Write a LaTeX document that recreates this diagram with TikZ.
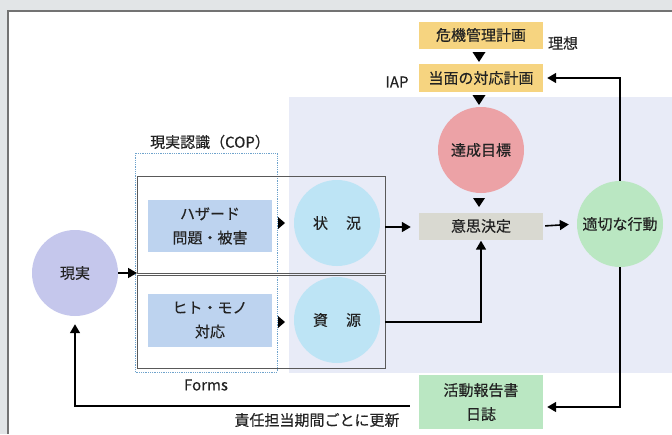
\documentclass[tikz,border=0pt]{standalone}
\usepackage{fontspec}
\setmainfont[FakeBold=0.35]{Noto Sans CJK JP}
\usetikzlibrary{arrows.meta,calc}
\definecolor{frameg}{HTML}{E2E5E7}
\definecolor{lav}{HTML}{E8EBF7}
\definecolor{orangebox}{HTML}{F6D480}
\definecolor{pinkc}{HTML}{ECA2A6}
\definecolor{grayb}{HTML}{D9D9D1}
\definecolor{greenc}{HTML}{BAE7C2}
\definecolor{lavc}{HTML}{C5C7EC}
\definecolor{blueb}{HTML}{BDD3EF}
\definecolor{cyanc}{HTML}{BDE4F5}
\definecolor{dotblue}{HTML}{6FA3CC}
\definecolor{txt}{HTML}{222222}
\newcommand{\jfont}{\fontsize{15}{24}\selectfont}
\begin{document}
\begin{tikzpicture}[x=1pt,y=-1pt,
  boxnode/.style={rectangle, inner sep=0pt, minimum width=124pt, minimum height=27pt, font=\jfont, align=center, text=txt},
  circnode/.style={circle, inner sep=0pt, minimum size=86pt, font=\jfont, align=center, text=txt},
  lbl/.style={inner sep=0pt, font=\jfont, text=txt},
  conn/.style={line width=1.6pt, -{Triangle[length=9pt,width=10pt]}},
  grect/.style={draw=black!65, line width=0.9pt},
  tri/.style={fill=black}
]
\useasboundingbox (0,0) rectangle (672,434);
% page frame
\fill[frameg] (0,0) rectangle (672,434);
\fill[white] (8,11) rectangle (672,434);
\draw[black!55, line width=1.2pt] (8,434) -- (8,11) -- (672,11);
% lavender background
\fill[lav] (289,97) rectangle (672,373);

% COP group
\draw[dotblue, densely dotted, line width=0.8pt] (135,153) rectangle (277,372);
\draw[grect] (137,176) rectangle (385,273);
\draw[grect] (137,275) rectangle (385,368);
\coordinate (upR) at (385,227);
\coordinate (loR) at (385,322);
\coordinate (gIn) at (137,273);

% nodes
\node[boxnode, fill=orangebox] (crisis) at (481,35) {危機管理計画};
\node[boxnode, fill=orangebox, minimum height=28pt] (iap) at (481,78) {当面の対応計画};
\node[circnode, fill=pinkc] (goal) at (481,150) {達成目標};
\node[boxnode, fill=grayb] (decide) at (481,226) {意思決定};
\node[circnode, fill=greenc] (action) at (620,224) {適切な行動};
\node[boxnode, fill=greenc, minimum height=54pt] (report) at (481,402) {活動報告書\\日誌};
\node[circnode, fill=lavc] (reality) at (75,273) {現実};
\node[boxnode, fill=blueb, minimum height=52pt] (hazard) at (210,226) {ハザード\\問題・被害};
\node[boxnode, fill=blueb, minimum height=53pt] (people) at (210,320) {ヒト・モノ\\対応};
\node[circnode, fill=cyanc] (situation) at (337,223) {状\hspace{18pt}況};
\node[circnode, fill=cyanc] (resource) at (337,320) {資\hspace{18pt}源};

% labels
\node[lbl] (ideal) at (563,43) {理想};
\node[lbl] (iaplbl) at (397,82) {IAP};
\node[lbl] (coplbl) at (210,142) {現実認識（COP）};
\node[lbl] (forms) at (206,385) {Forms};
\node[lbl] (update) at (317,420) {責任担当期間ごとに更新};

% head-only connectors (triangles)
\fill[tri] (472.5,52) -- (485.5,52) -- (479,62) -- cycle;
\fill[tri] (472.5,95) -- (485.5,95) -- (479,105) -- cycle;
\fill[tri] (473,198) -- (485,198) -- (479,207) -- cycle;
\fill[tri] (278,217) -- (278,229) -- (285,223) -- cycle;
\fill[tri] (278,316) -- (278,328) -- (285,322) -- cycle;

% connectors
\draw[conn] (reality.east |- gIn) -- (gIn);
\draw[conn, shorten >=8pt] (upR) -- (decide.west |- upR);
\draw[conn, shorten >=1pt] (loR) -| (decide.south);
\draw[conn, shorten <=2pt, shorten >=8pt] (decide.east) -- (action.west);
\draw[conn, shorten >=4pt] (action.north) |- (iap.east);
\draw[conn, shorten >=4pt] (action.south) |- (report.east |- 0,407);
\draw[conn, shorten >=8pt] ($(report.west)+(-9,4)$) -| (reality.south);
\end{tikzpicture}
\end{document}
